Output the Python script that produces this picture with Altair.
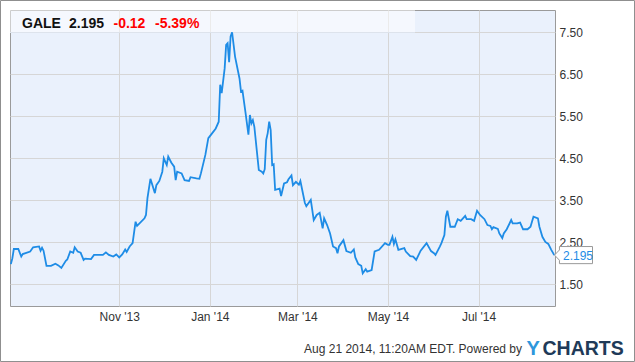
import altair as alt
import pandas as pd

# ---- data ----
dates = [
    "2013-08-20", "2013-08-21", "2013-08-22", "2013-08-25", "2013-08-27", "2013-08-28",
    "2013-09-02", "2013-09-04", "2013-09-08", "2013-09-09", "2013-09-10", "2013-09-11",
    "2013-09-13", "2013-09-16", "2013-09-19", "2013-09-21", "2013-09-23", "2013-09-26",
    "2013-09-27", "2013-09-29", "2013-10-01", "2013-10-02", "2013-10-04", "2013-10-06",
    "2013-10-08", "2013-10-09", "2013-10-13", "2013-10-15", "2013-10-21", "2013-10-23",
    "2013-10-25", "2013-10-28", "2013-10-30", "2013-11-01", "2013-11-03", "2013-11-05",
    "2013-11-06", "2013-11-08", "2013-11-10", "2013-11-12", "2013-11-13", "2013-11-18",
    "2013-11-19", "2013-11-20", "2013-11-22", "2013-11-25", "2013-11-26", "2013-11-28",
    "2013-11-30", "2013-12-01", "2013-12-03", "2013-12-04", "2013-12-06", "2013-12-08",
    "2013-12-09", "2013-12-10", "2013-12-13", "2013-12-15", "2013-12-18", "2013-12-19",
    "2013-12-23", "2013-12-25", "2013-12-26", "2013-12-29", "2013-12-31", "2014-01-02",
    "2014-01-05", "2014-01-07", "2014-01-08", "2014-01-09", "2014-01-11", "2014-01-12",
    "2014-01-13", "2014-01-14", "2014-01-15", "2014-01-16", "2014-01-18", "2014-01-21",
    "2014-01-22", "2014-01-23", "2014-01-25", "2014-01-27", "2014-01-28", "2014-01-29",
    "2014-01-30", "2014-01-31", "2014-02-03", "2014-02-05", "2014-02-06", "2014-02-07",
    "2014-02-08", "2014-02-09", "2014-02-10", "2014-02-11", "2014-02-12", "2014-02-13",
    "2014-02-14", "2014-02-17", "2014-02-18", "2014-02-20", "2014-02-22", "2014-02-23",
    "2014-02-25", "2014-02-26", "2014-02-28", "2014-03-02", "2014-03-03", "2014-03-06",
    "2014-03-07", "2014-03-10", "2014-03-11", "2014-03-12", "2014-03-14", "2014-03-16",
    "2014-03-18", "2014-03-19", "2014-03-21", "2014-03-23", "2014-03-25", "2014-03-27",
    "2014-03-28", "2014-03-29", "2014-04-01", "2014-04-03", "2014-04-06", "2014-04-08",
    "2014-04-09", "2014-04-11", "2014-04-13", "2014-04-14", "2014-04-16", "2014-04-17",
    "2014-04-20", "2014-04-22", "2014-04-25", "2014-04-29", "2014-05-01", "2014-05-02",
    "2014-05-04", "2014-05-05", "2014-05-06", "2014-05-08", "2014-05-12", "2014-05-13",
    "2014-05-16", "2014-05-18", "2014-05-20", "2014-05-23", "2014-05-27", "2014-05-30",
    "2014-06-01", "2014-06-02", "2014-06-05", "2014-06-06", "2014-06-08", "2014-06-09",
    "2014-06-10", "2014-06-12", "2014-06-15", "2014-06-17", "2014-06-19", "2014-06-22",
    "2014-06-23", "2014-06-26", "2014-06-28", "2014-06-30", "2014-07-02", "2014-07-05",
    "2014-07-07", "2014-07-09", "2014-07-10", "2014-07-11", "2014-07-14", "2014-07-15",
    "2014-07-17", "2014-07-18", "2014-07-20", "2014-07-23", "2014-07-24", "2014-07-27",
    "2014-07-29", "2014-07-31", "2014-08-03", "2014-08-05", "2014-08-07", "2014-08-10",
    "2014-08-11", "2014-08-13", "2014-08-15", "2014-08-17", "2014-08-19", "2014-08-21",
]
prices = [
    1.98, 2.12, 2.34, 2.34, 2.16, 2.22,
    2.28, 2.38, 2.40, 2.30, 2.37, 2.30,
    1.94, 1.94, 1.99, 1.95, 1.89, 2.06,
    2.09, 2.28, 2.25, 2.38, 2.28, 2.25,
    2.08, 2.11, 2.10, 2.20, 2.20, 2.26,
    2.20, 2.16, 2.21, 2.14, 2.21, 2.33,
    2.27, 2.40, 2.48, 2.99, 2.89, 3.07,
    3.15, 3.55, 4.01, 3.67, 3.86, 3.96,
    4.18, 4.50, 4.34, 4.54, 4.40, 4.30,
    3.98, 4.18, 4.14, 3.98, 3.96, 4.05,
    4.02, 4.01, 4.14, 4.58, 4.98, 5.07,
    5.21, 5.37, 6.25, 6.05, 6.64, 7.20,
    7.24, 6.79, 7.40, 7.50, 6.92, 6.40,
    6.09, 6.11, 5.60, 5.06, 5.53, 5.33,
    5.41, 5.25, 4.22, 4.18, 4.14, 4.24,
    4.94, 5.10, 5.37, 5.17, 4.34, 4.36,
    3.75, 3.78, 3.60, 3.90, 3.93, 4.00,
    4.09, 3.86, 3.94, 3.87, 3.96, 3.44,
    3.36, 3.51, 3.27, 3.03, 3.15, 3.20,
    2.83, 3.07, 2.91, 2.71, 2.40, 2.36,
    2.24, 2.40, 2.55, 2.29, 2.25, 2.33,
    2.14, 1.98, 1.94, 1.76, 1.86, 1.80,
    1.84, 2.28, 2.32, 2.48, 2.44, 2.44,
    2.63, 2.46, 2.57, 2.32, 2.36, 2.28,
    2.17, 2.16, 2.08, 2.30, 2.48, 2.29,
    2.24, 2.20, 2.40, 2.48, 2.67, 3.11,
    3.25, 2.87, 2.87, 3.05, 3.01, 3.13,
    3.05, 3.05, 3.01, 3.25, 3.15, 3.05,
    2.91, 2.89, 2.81, 2.86, 2.82, 2.71,
    2.60, 2.71, 2.81, 3.03, 2.95, 2.95,
    2.97, 2.81, 2.81, 2.87, 3.11, 3.07,
    2.87, 2.63, 2.51, 2.46, 2.32, 2.195,
]
y_ticks = [1.5, 2.5, 3.5, 4.5, 5.5, 6.5, 7.5]
x_tick_dates = [(2013, 11), (2014, 1), (2014, 3), (2014, 5), (2014, 7)]
header_ticker = "GALE"
header_price = "2.195"
header_change = "-0.12"
header_pct = "-5.39%"
footer_text = "Aug 21 2014, 11:20AM EDT.  Powered by"

df = pd.DataFrame({"date": dates, "price": prices})
last = df.tail(1)

FONT = "Liberation Sans"
W, H = 545, 296
one = alt.Data(values=[{}])

x_scale = alt.Scale(
    type="utc",
    domain=[alt.DateTime(year=2013, month=8, date=19, hours=10, utc=True),
            alt.DateTime(year=2014, month=8, date=21, hours=12, utc=True)],
)
y_scale = alt.Scale(domain=[0.983, 8.03], nice=False, zero=False)

x_axis = alt.Axis(
    values=[alt.DateTime(year=y, month=m, date=1, utc=True) for y, m in x_tick_dates],
    format="%b '%y", title=None, ticks=False, tickSize=0, domain=False,
    labelFont=FONT, labelFontSize=12, labelColor="#333333", labelPadding=5,
    grid=True, gridColor="#D6D6D6",
)
y_axis = alt.Axis(
    values=y_ticks, format=".2f", orient="right", title=None, ticks=False, tickSize=0,
    domain=False, labelFont=FONT, labelFontSize=12, labelColor="#333333",
    labelPadding=4, grid=True, gridColor="#D6D6D6",
)

band = alt.Chart(one).mark_rect(fill="white", opacity=0.5).encode(
    x=alt.value(0), x2=alt.value(405), y=alt.value(0), y2=alt.value(22)
)
band_line = alt.Chart(one).mark_rule(color="#DDE3EC", strokeWidth=1).encode(
    x=alt.value(0), x2=alt.value(405), y=alt.value(22.5)
)

line = alt.Chart(df).mark_line(color="#1E8CE6", strokeWidth=1.8).encode(
    x=alt.X("date:T", scale=x_scale, axis=x_axis),
    y=alt.Y("price:Q", scale=y_scale, axis=y_axis),
)

tag_shape = "M -1 0 L -0.74 -0.27 L -0.74 -0.45 L 1 -0.45 L 1 0.45 L -0.74 0.45 L -0.74 0.27 Z"
tag = alt.Chart(last).mark_point(
    shape=tag_shape, size=1444, filled=True, fill="white", stroke="#999999",
    strokeWidth=1, opacity=1,
).encode(x=alt.value(W + 18.5), y=alt.Y("price:Q", scale=y_scale))
tag_text = alt.Chart(last).mark_text(
    align="left", baseline="middle", font=FONT, fontSize=12, color="#1E8CE6", dy=1
).encode(x=alt.value(W + 8), y=alt.Y("price:Q", scale=y_scale), text=alt.Text("price:Q", format=".3f"))


def label(txt, x, y, color, size=14, weight="bold", align="left"):
    return alt.Chart(one).mark_text(
        text=txt, align=align, baseline="alphabetic", font=FONT, fontSize=size,
        fontWeight=weight, color=color,
    ).encode(x=alt.value(x), y=alt.value(y))


h1 = label(header_ticker, 12, 18, "#111111")
h2 = label(header_price, 59, 18, "#111111")
h3 = label(header_change, 103.5, 18, "#FF0000")
h4 = label(header_pct, 145, 18, "#FF0000")

foot = label(footer_text, 512, 343, "#333333", size=12, weight="normal", align="right")
logo_y = label("Y", 516.5, 344.5, "#2E97DC", size=20)
logo_c = label("CHARTS", 532.5, 344.5, "#203A58", size=19.5)

frame = alt.Chart(one).mark_rect(fill=None, stroke="#8F8F8F", strokeWidth=1).encode(
    x=alt.value(-9.5), x2=alt.value(624.5), y=alt.value(-9.5), y2=alt.value(351.5)
)

chart = alt.layer(
    band, band_line, line, tag, tag_text, h1, h2, h3, h4, foot, logo_y, logo_c, frame
).properties(
    width=W, height=H,
    padding={"left": 10, "top": 10, "right": 80, "bottom": 56},
    autosize=alt.AutoSizeParams(type="none"),
    background="white",
).configure_view(
    fill="#EAF1FC", stroke="#9A9A9A", strokeWidth=1
)

chart.save("out.html", embed_options={"renderer": "svg", "actions": False})
